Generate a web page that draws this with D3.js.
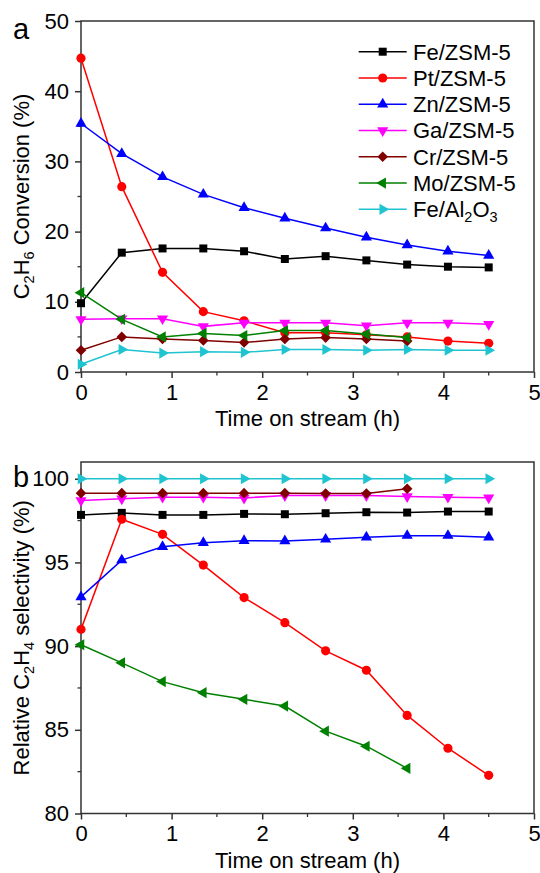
<!DOCTYPE html>
<html>
<head>
<meta charset="utf-8">
<script src="https://cdn.jsdelivr.net/npm/d3@7"></script>
<style>
  html, body { margin: 0; padding: 0; background: #fff; }
  svg { display: block; font-family: Arial, "Liberation Sans", Helvetica, sans-serif; }
</style>
</head>
<body>
<svg id="chart" width="540" height="873"></svg>
<script>
// Time on stream (h)
const times = [0, 0.45, 0.9, 1.35, 1.8, 2.25, 2.7, 3.15, 3.6, 4.05, 4.5];

// Catalyst names and styles
const catalysts = ["Fe/ZSM-5", "Pt/ZSM-5", "Zn/ZSM-5", "Ga/ZSM-5", "Cr/ZSM-5", "Mo/ZSM-5", "Fe/Al2O3"];
const colors = ["#000000", "#ff0000", "#0000ff", "#ff00ff", "#800000", "#008000", "#1fc4d0"];
const shapes = ["square", "circle", "up", "down", "diamond", "left", "right"];

// Panel a: C2H6 conversion (%)
const convFe   = [9.8, 17.0, 17.6, 17.6, 17.2, 16.1, 16.5, 15.9, 15.3, 15.0, 14.9];
const convPt   = [44.7, 26.4, 14.2, 8.6, 7.3, 5.6, 5.6, 5.3, 5.0, 4.4, 4.1];
const convZn   = [35.4, 31.1, 27.8, 25.3, 23.4, 21.9, 20.5, 19.2, 18.1, 17.2, 16.6];
const convGa   = [7.5, 7.6, 7.6, 6.5, 7.0, 7.0, 7.0, 6.6, 7.0, 7.0, 6.8];
const convCr   = [3.1, 5.0, 4.7, 4.5, 4.2, 4.7, 4.9, 4.7, 4.4];
const convMo   = [11.3, 7.5, 5.0, 5.5, 5.2, 5.9, 5.9, 5.4, 4.9];
const convFeAl = [1.1, 3.2, 2.7, 2.9, 2.8, 3.2, 3.2, 3.1, 3.2, 3.1, 3.1];

// Panel b: relative C2H4 selectivity (%)
const selFe   = [97.84, 97.96, 97.84, 97.84, 97.9, 97.88, 97.94, 98.0, 97.98, 98.04, 98.04];
const selPt   = [91.0, 97.58, 96.68, 94.84, 92.9, 91.4, 89.72, 88.56, 85.86, 83.9, 82.28];
const selZn   = [92.94, 95.14, 95.94, 96.18, 96.3, 96.28, 96.38, 96.5, 96.6, 96.6, 96.5];
const selGa   = [98.7, 98.8, 98.9, 98.9, 98.85, 99.0, 99.0, 99.0, 98.94, 98.9, 98.86];
const selCr   = [99.14, 99.14, 99.14, 99.14, 99.14, 99.14, 99.12, 99.12, 99.4];
const selMo   = [90.08, 89.0, 87.88, 87.22, 86.82, 86.42, 84.92, 84.02, 82.7];
const selFeAl = [100, 100, 100, 100, 100, 100, 100, 100, 100, 100, 100];

const xTicks = [0, 1, 2, 3, 4, 5];
const yTicksA = [0, 10, 20, 30, 40, 50];
const yTicksB = [80, 85, 90, 95, 100];

const svg = d3.select("#chart");
const axisColor = "#333";
const FONT = 22;
const SUB = 14.5;

const left = 81, right = 534;
const x = d3.scaleLinear().domain([0, 5]).range([left, right]);

function symbolPath(shape) {
  const s = {
    square:  d3.symbol(d3.symbolSquare, 64),
    circle:  d3.symbol(d3.symbolCircle, 66),
    up:      d3.symbol(d3.symbolTriangle, 54),
    down:    d3.symbol(d3.symbolTriangle, 54),
    left:    d3.symbol(d3.symbolTriangle, 54),
    right:   d3.symbol(d3.symbolTriangle, 54),
    diamond: d3.symbol(d3.symbolSquare, 56)
  }[shape];
  return s();
}
const rotation = { square: 0, circle: 0, up: 0, down: 180, left: -90, right: 90, diamond: 45 };

function drawMarker(g, shape, color, cx, cy) {
  g.append("path")
    .attr("d", symbolPath(shape))
    .attr("transform", `translate(${cx},${cy}) rotate(${rotation[shape]})`)
    .attr("fill", color);
}

// Writes a sequence of text parts into a text element, lowering the
// subscript parts and restoring the baseline on the part that follows.
function writeParts(textEl, parts) {
  let lowered = false;
  parts.forEach(part => {
    const ts = textEl.append("tspan").text(part.t);
    if (part.sub) {
      ts.attr("font-size", SUB).attr("dy", lowered ? 0 : 5);
      lowered = true;
    } else if (lowered) {
      ts.attr("dy", -5);
      lowered = false;
    }
  });
}

function panel(opts) {
  const { top, bottom, domain, yTicks, minorStep, series, title, letter, letterY } = opts;
  const y = d3.scaleLinear().domain(domain).range([bottom, top]);
  const g = svg.append("g");

  // plot frame
  g.append("rect")
    .attr("x", left).attr("y", top)
    .attr("width", right - left).attr("height", bottom - top)
    .attr("fill", "none").attr("stroke", axisColor).attr("stroke-width", 1.5);

  // minor ticks
  const xMinor = d3.range(0.5, 5, 1);
  g.selectAll(null).data(xMinor).join("line")
    .attr("x1", d => x(d)).attr("x2", d => x(d))
    .attr("y1", bottom).attr("y2", bottom + 3.5)
    .attr("stroke", axisColor).attr("stroke-width", 1.3);
  const yMinor = d3.range(domain[0] + minorStep, domain[1], minorStep * 2);
  g.selectAll(null).data(yMinor).join("line")
    .attr("y1", d => y(d)).attr("y2", d => y(d))
    .attr("x1", left).attr("x2", left - 3.5)
    .attr("stroke", axisColor).attr("stroke-width", 1.3);

  // major axes
  const xAxis = d3.axisBottom(x).tickValues(xTicks).tickSize(6).tickPadding(6).tickFormat(d3.format("d"));
  const gx = g.append("g").attr("transform", `translate(0,${bottom})`).call(xAxis);
  const yAxis = d3.axisLeft(y).tickValues(yTicks).tickSize(6).tickPadding(6).tickFormat(d3.format("d"));
  const gy = g.append("g").attr("transform", `translate(${left},0)`).call(yAxis);
  [gx, gy].forEach(a => {
    a.select(".domain").remove();
    a.selectAll(".tick line").attr("stroke", axisColor).attr("stroke-width", 1.5);
    a.selectAll(".tick text").attr("fill", "#000").attr("font-size", FONT).attr("font-family", "Arial, 'Liberation Sans', sans-serif");
  });

  // series lines and markers
  const line = d3.line().x((d, i) => x(times[i])).y(d => y(d));
  series.forEach((vals, k) => {
    g.append("path").datum(vals)
      .attr("d", line)
      .attr("fill", "none")
      .attr("stroke", colors[k])
      .attr("stroke-width", 1.5);
    vals.forEach((v, i) => drawMarker(g, shapes[k], colors[k], x(times[i]), y(v)));
  });

  // axis titles
  g.append("text")
    .attr("x", (left + right) / 2).attr("y", bottom + 54)
    .attr("text-anchor", "middle").attr("font-size", FONT)
    .text("Time on stream (h)");

  const yt = g.append("text")
    .attr("transform", `translate(28.5,${(top + bottom) / 2}) rotate(-90)`)
    .attr("text-anchor", "middle").attr("font-size", FONT);
  writeParts(yt, title);

  g.append("text").attr("x", 13).attr("y", letterY)
    .attr("font-size", 29).text(letter);

  return { g, y };
}

panel({
  top: 21, bottom: 372, domain: [0, 50], yTicks: yTicksA, minorStep: 5,
  series: [convFe, convPt, convZn, convGa, convCr, convMo, convFeAl],
  title: [{ t: "C" }, { t: "2", sub: true }, { t: "H" }, { t: "6", sub: true }, { t: " Conversion (%)" }],
  letter: "a", letterY: 39
});

panel({
  top: 462, bottom: 813.5, domain: [80, 101], yTicks: yTicksB, minorStep: 2.5,
  series: [selFe, selPt, selZn, selGa, selCr, selMo, selFeAl],
  title: [{ t: "Relative C" }, { t: "2", sub: true }, { t: "H" }, { t: "4", sub: true }, { t: " selectivity (%)" }],
  letter: "b", letterY: 486.5
});

// legend for panel a
const legend = svg.append("g");
const legendY0 = 51.7, legendStep = 26.27;
catalysts.forEach((name, k) => {
  const ly = legendY0 + k * legendStep;
  legend.append("line")
    .attr("x1", 358.7).attr("x2", 406.7).attr("y1", ly).attr("y2", ly)
    .attr("stroke", colors[k]).attr("stroke-width", 1.5);
  drawMarker(legend, shapes[k], colors[k], 382.7, ly);
  const t = legend.append("text").attr("x", 413).attr("y", ly + 7.8).attr("font-size", FONT);
  if (name === "Fe/Al2O3") {
    writeParts(t, [{ t: "Fe/Al" }, { t: "2", sub: true }, { t: "O" }, { t: "3", sub: true }]);
  } else {
    t.text(name);
  }
});
</script>
</body>
</html>
